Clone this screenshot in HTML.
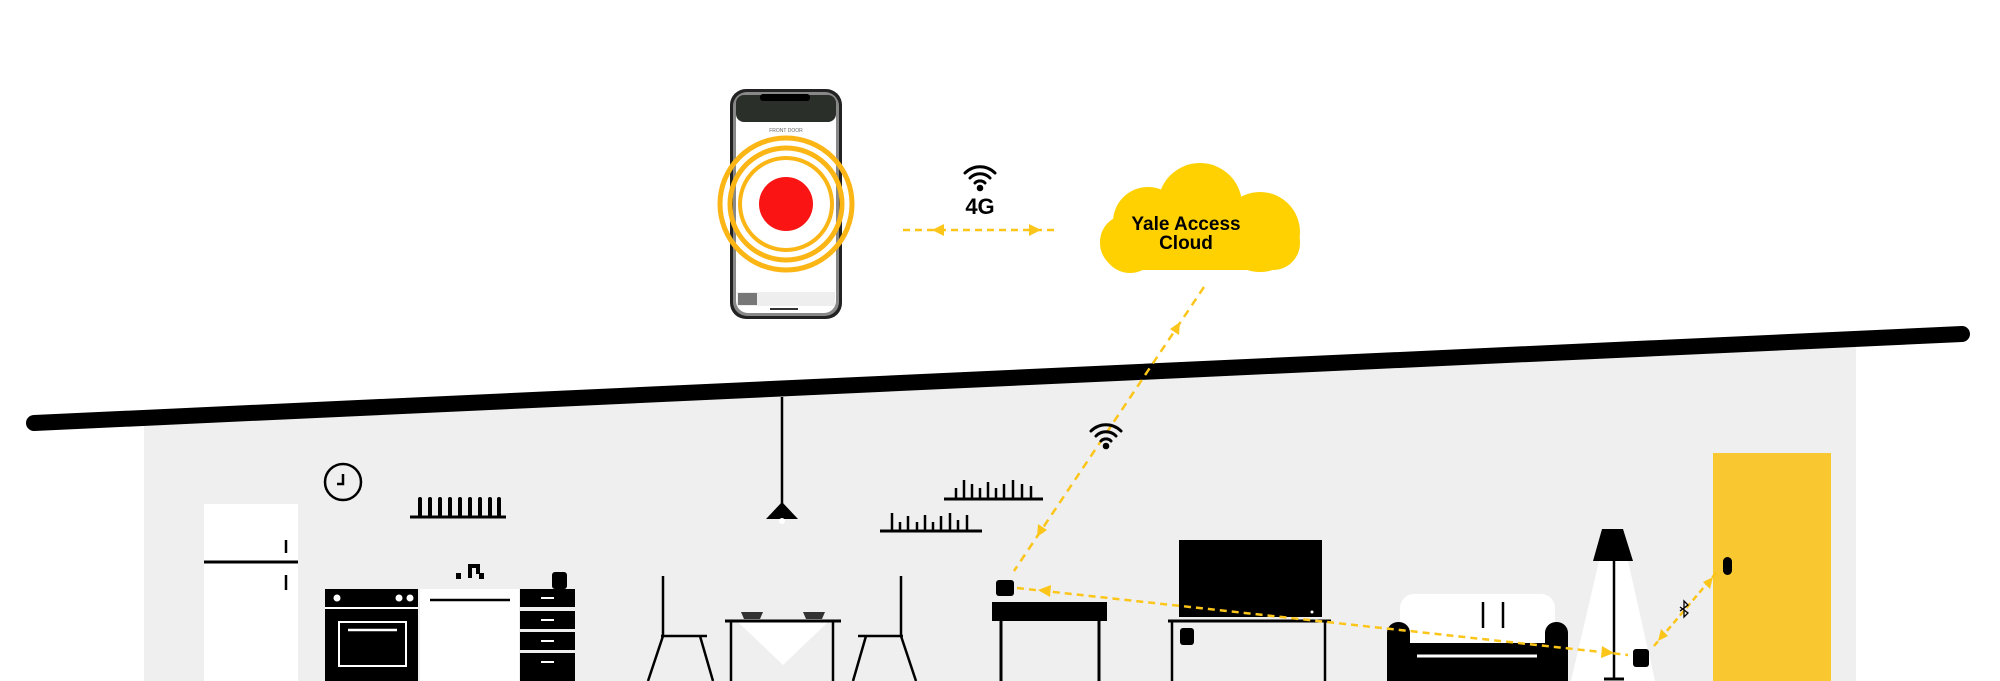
<!DOCTYPE html>
<html><head><meta charset="utf-8"><style>
html,body{margin:0;padding:0;background:#fff;}
svg{display:block}
text{font-family:"Liberation Sans",sans-serif}
</style></head><body>
<svg width="2000" height="681" viewBox="0 0 2000 681" xmlns="http://www.w3.org/2000/svg">
<defs>
<marker id="ah" viewBox="0 0 10 10" refX="5" refY="5" markerWidth="4" markerHeight="4" orient="auto"><path d="M0,0 L10,5 L0,10 z" fill="#fbc51a"/></marker>
</defs>
<!-- wall -->
<polygon points="144,418 1856,339 1856,681 144,681" fill="#efefef"/>
<!-- roof -->
<line x1="34" y1="423" x2="1962" y2="334" stroke="#000" stroke-width="16" stroke-linecap="round"/>

<!-- phone -->
<rect x="730" y="89" width="112" height="230" rx="16" fill="#222"/>
<rect x="733" y="92" width="106" height="224" rx="14" fill="#888"/>
<rect x="736" y="95" width="100" height="218" rx="12" fill="#fff"/>
<rect x="736" y="95" width="100" height="27" rx="8" fill="#2a2f2a"/>
<rect x="760" y="94" width="50" height="7" rx="3" fill="#000"/>
<text x="786" y="132" font-size="5" text-anchor="middle" fill="#666">FRONT DOOR</text>
<rect x="737" y="292" width="98" height="14" fill="#eee"/>
<rect x="738" y="293" width="19" height="12" fill="#777"/>
<rect x="770" y="308" width="28" height="2" fill="#333"/>
<circle cx="786" cy="204" r="27" fill="#fa1414"/>
<ellipse cx="786" cy="204" rx="46" ry="46" fill="none" stroke="#fbb514" stroke-width="4"/>
<ellipse cx="786" cy="204" rx="56" ry="56" fill="none" stroke="#fbb514" stroke-width="5"/>
<ellipse cx="786" cy="204" rx="66" ry="66" fill="none" stroke="#fbb514" stroke-width="5"/>

<!-- 4G -->
<g transform="translate(980,178)" fill="none" stroke="#000" stroke-width="3" stroke-linecap="round">
<path d="M-15,-5 A21,21 0 0 1 15,-5"/><path d="M-10,0 A14,14 0 0 1 10,0"/><path d="M-5,5 A7,7 0 0 1 5,5"/>
<circle cx="0" cy="10" r="1.8" fill="#000"/>
</g>
<text x="980" y="214" font-size="22" font-weight="bold" text-anchor="middle">4G</text>
<line x1="903" y1="230" x2="1056" y2="230" stroke="#fbc51a" stroke-width="2.5" stroke-dasharray="7,5"/>
<path d="M932,230 l12,-6 v12z M1041,230 l-12,-6 v12z" fill="#fbc51a"/>

<!-- cloud -->
<g fill="#ffd100">
<rect x="1100" y="215" width="200" height="55" rx="27"/>
<circle cx="1148" cy="222" r="35"/>
<circle cx="1200" cy="205" r="42"/>
<circle cx="1260" cy="232" r="40"/>
<circle cx="1130" cy="245" r="28"/>
</g>
<text x="1186" y="230" font-size="19" font-weight="bold" text-anchor="middle">Yale Access</text>
<text x="1186" y="249" font-size="19" font-weight="bold" text-anchor="middle">Cloud</text>

<!-- cloud to router -->
<line x1="1204" y1="287" x2="1014" y2="571" stroke="#fbc51a" stroke-width="2.5" stroke-dasharray="8,6"/>
<path d="M1180,322 l-1,13 l-9,-6z" fill="#fbc51a"/>
<path d="M1037,537 l1,-13 l9,6z" fill="#fbc51a"/>
<g transform="translate(1106,436)" fill="none" stroke="#000" stroke-width="3" stroke-linecap="round">
<path d="M-15,-5 A21,21 0 0 1 15,-5"/><path d="M-10,0 A14,14 0 0 1 10,0"/><path d="M-5,5 A7,7 0 0 1 5,5"/>
<circle cx="0" cy="10" r="1.8" fill="#000"/>
</g>

<!-- router -->
<rect x="996" y="580" width="18" height="16" rx="3" fill="#000"/>
<rect x="992" y="602" width="115" height="19" fill="#000"/>
<line x1="1001" y1="621" x2="1001" y2="681" stroke="#000" stroke-width="3"/>
<line x1="1099" y1="621" x2="1099" y2="681" stroke="#000" stroke-width="3"/>

<!-- clock -->
<circle cx="343" cy="482" r="18" fill="none" stroke="#000" stroke-width="2.5"/>
<path d="M343,474 v10 h-6" fill="none" stroke="#000" stroke-width="2.5"/>

<!-- fridge -->
<rect x="204" y="504" width="94" height="177" fill="#fff"/>
<line x1="204" y1="562" x2="298" y2="562" stroke="#000" stroke-width="3"/>
<line x1="286" y1="540" x2="286" y2="553" stroke="#000" stroke-width="2.5"/>
<line x1="286" y1="575" x2="286" y2="590" stroke="#000" stroke-width="2.5"/>

<!-- plate rack -->
<line x1="410" y1="517" x2="506" y2="517" stroke="#000" stroke-width="3"/>
<g stroke="#000" stroke-width="4" stroke-linecap="round">
<line x1="420" y1="499" x2="420" y2="515"/><line x1="430" y1="499" x2="430" y2="515"/><line x1="440" y1="499" x2="440" y2="515"/><line x1="450" y1="499" x2="450" y2="515"/><line x1="460" y1="499" x2="460" y2="515"/><line x1="470" y1="499" x2="470" y2="515"/><line x1="480" y1="499" x2="480" y2="515"/><line x1="490" y1="499" x2="490" y2="515"/><line x1="499" y1="499" x2="499" y2="515"/>
</g>

<!-- oven -->
<rect x="325" y="589" width="93" height="92" fill="#000"/>
<line x1="325" y1="608" x2="418" y2="608" stroke="#fff" stroke-width="2"/>
<circle cx="337" cy="598" r="3.5" fill="#fff"/><circle cx="399" cy="598" r="3.5" fill="#fff"/><circle cx="410" cy="598" r="3.5" fill="#fff"/>
<rect x="339" y="622" width="67" height="44" fill="none" stroke="#fff" stroke-width="2"/>
<line x1="348" y1="630" x2="397" y2="630" stroke="#fff" stroke-width="2.5"/>

<!-- sink cabinet -->
<rect x="420" y="589" width="99" height="92" fill="#fff"/>
<line x1="430" y1="600" x2="510" y2="600" stroke="#000" stroke-width="2.5"/>
<path d="M468,566 h10 v8 M470,566 v12" fill="none" stroke="#000" stroke-width="4"/>
<rect x="456" y="573" width="5" height="6" fill="#000"/><rect x="479" y="573" width="5" height="6" fill="#000"/>

<!-- drawers -->
<rect x="552" y="572" width="15" height="17" rx="3" fill="#000"/>
<g fill="#000">
<rect x="520" y="589" width="55" height="18"/>
<rect x="520" y="611" width="55" height="18"/>
<rect x="520" y="632" width="55" height="18"/>
<rect x="520" y="653" width="55" height="28"/>
</g>
<g stroke="#fff" stroke-width="2">
<line x1="541" y1="598" x2="554" y2="598"/><line x1="541" y1="620" x2="554" y2="620"/><line x1="541" y1="641" x2="554" y2="641"/><line x1="541" y1="662" x2="554" y2="662"/>
</g>

<!-- pendant lamp -->
<line x1="782" y1="397" x2="782" y2="505" stroke="#000" stroke-width="2.5"/>
<polygon points="782,502 766,519 798,519" fill="#000"/>
<circle cx="782" cy="521" r="3" fill="#fff"/>

<!-- chairs -->
<g fill="none" stroke="#000" stroke-width="2.5">
<line x1="663" y1="576" x2="663" y2="636"/><line x1="661" y1="636" x2="707" y2="636"/>
<line x1="663" y1="636" x2="648" y2="681"/><line x1="700" y1="636" x2="713" y2="681"/>
<line x1="901" y1="576" x2="901" y2="636"/><line x1="858" y1="636" x2="903" y2="636"/>
<line x1="866" y1="636" x2="853" y2="681"/><line x1="901" y1="636" x2="916" y2="681"/>
</g>
<!-- dining table -->
<polygon points="738,622 828,622 783,665" fill="#fff"/>
<line x1="725" y1="621" x2="841" y2="621" stroke="#000" stroke-width="3"/>
<line x1="731" y1="621" x2="731" y2="681" stroke="#000" stroke-width="2.5"/>
<line x1="833" y1="621" x2="833" y2="681" stroke="#000" stroke-width="2.5"/>
<path d="M741,612 h22 l-3,7 h-16z M803,612 h22 l-3,7 h-16z" fill="#333"/>

<!-- shelves -->
<line x1="944" y1="499" x2="1043" y2="499" stroke="#000" stroke-width="3"/>
<g stroke="#000" stroke-width="2.5">
<line x1="956" y1="498" x2="956" y2="488"/><line x1="964" y1="498" x2="964" y2="480"/><line x1="972" y1="498" x2="972" y2="484"/><line x1="980" y1="498" x2="980" y2="488"/><line x1="988" y1="498" x2="988" y2="482"/><line x1="996" y1="498" x2="996" y2="488"/><line x1="1004" y1="498" x2="1004" y2="484"/><line x1="1013" y1="498" x2="1013" y2="480"/><line x1="1022" y1="498" x2="1022" y2="484"/><line x1="1031" y1="498" x2="1031" y2="486"/>
</g>
<line x1="880" y1="531" x2="982" y2="531" stroke="#000" stroke-width="3"/>
<g stroke="#000" stroke-width="2.5">
<line x1="892" y1="530" x2="892" y2="513"/><line x1="900" y1="530" x2="900" y2="522"/><line x1="908" y1="530" x2="908" y2="516"/><line x1="917" y1="530" x2="917" y2="522"/><line x1="925" y1="530" x2="925" y2="515"/><line x1="933" y1="530" x2="933" y2="522"/><line x1="941" y1="530" x2="941" y2="516"/><line x1="950" y1="530" x2="950" y2="513"/><line x1="958" y1="530" x2="958" y2="520"/><line x1="967" y1="530" x2="967" y2="515"/>
</g>

<!-- TV -->
<rect x="1179" y="540" width="143" height="77" fill="#000"/>
<circle cx="1312" cy="612" r="1.5" fill="#fff"/>
<line x1="1168" y1="621" x2="1331" y2="621" stroke="#000" stroke-width="3"/>
<line x1="1172" y1="621" x2="1172" y2="681" stroke="#000" stroke-width="2.5"/>
<line x1="1325" y1="621" x2="1325" y2="681" stroke="#000" stroke-width="2.5"/>
<rect x="1180" y="628" width="14" height="17" rx="3" fill="#000"/>

<!-- sofa -->
<rect x="1400" y="594" width="155" height="50" rx="14" fill="#fff"/>
<line x1="1483" y1="602" x2="1483" y2="628" stroke="#000" stroke-width="2.5"/>
<line x1="1503" y1="602" x2="1503" y2="628" stroke="#000" stroke-width="2.5"/>
<rect x="1387" y="622" width="23" height="59" rx="11" fill="#000"/>
<rect x="1545" y="622" width="23" height="59" rx="11" fill="#000"/>
<rect x="1387" y="643" width="181" height="38" fill="#000"/>
<line x1="1417" y1="656" x2="1537" y2="656" stroke="#fff" stroke-width="3"/>

<!-- floor lamp -->
<polygon points="1599,561 1628,561 1655,681 1571,681" fill="#fff"/>
<polygon points="1602,529 1623,529 1633,561 1593,561" fill="#000"/>
<line x1="1614" y1="561" x2="1614" y2="679" stroke="#000" stroke-width="2.5"/>
<line x1="1604" y1="679" x2="1624" y2="679" stroke="#000" stroke-width="3"/>

<!-- door -->
<rect x="1713" y="453" width="118" height="228" fill="#f9c72f"/>
<rect x="1723" y="557" width="9" height="18" rx="4.5" fill="#000"/>

<!-- bridge -->
<rect x="1633" y="649" width="16" height="18" rx="3" fill="#000"/>

<!-- router to bridge -->
<line x1="1017" y1="588" x2="1628" y2="655" stroke="#fbc51a" stroke-width="2.5" stroke-dasharray="7,5"/>
<path d="M1038,590 l13,-5 l-1,12z" fill="#fbc51a"/>
<path d="M1614,653 l-13,5 l1,-12z" fill="#fbc51a"/>
<!-- bridge to door -->
<line x1="1654" y1="646" x2="1716" y2="573" stroke="#fbc51a" stroke-width="2.5" stroke-dasharray="6,4"/>
<path d="M1658,641 l3,-12 l7,7z" fill="#fbc51a"/>
<path d="M1713,577 l-3,12 l-7,-7z" fill="#fbc51a"/>
<!-- bluetooth -->
<path d="M1680,607 l8,6 l-4,4 v-16 l4,4 l-8,6" fill="none" stroke="#000" stroke-width="1.3"/>
</svg>
</body></html>
